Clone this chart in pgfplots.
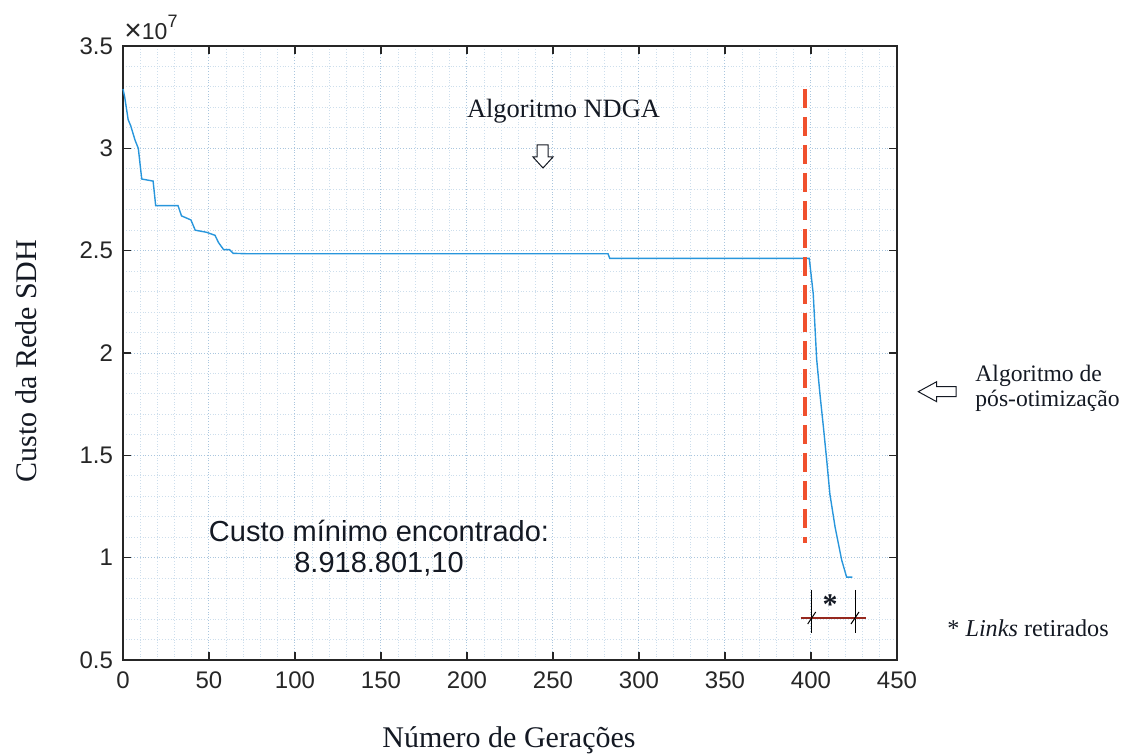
\documentclass[border=0pt]{standalone}
\usepackage{fontspec}
\setmainfont{Liberation Serif}
\setsansfont{Liberation Sans}
\usepackage{pgfplots}
\pgfplotsset{compat=1.18}
\definecolor{matblue}{RGB}{40,150,220}
\definecolor{dashred}{RGB}{240,80,45}
\definecolor{axgray}{RGB}{38,38,38}
\definecolor{gridmaj}{RGB}{170,198,222}
\definecolor{gridmin}{RGB}{205,222,236}
\definecolor{txt}{RGB}{20,25,35}
\definecolor{dimred}{RGB}{150,40,30}
\begin{document}
\begin{tikzpicture}
\path[use as bounding box] (-61.5pt,-48pt) rectangle (499pt,330pt);
\begin{axis}[
 at={(0,0)}, anchor=south west,
 scale only axis, width=387pt, height=307pt,
 xmin=0, xmax=450, ymin=0.5, ymax=3.5,
 xtick={0,50,...,450}, ytick={0.5,1,1.5,2,2.5,3,3.5},
 yticklabels={0.5,1,1.5,2,2.5,3,3.5},
 minor x tick num=4, minor y tick num=4,
 grid=both,
 major grid style={densely dotted, gridmaj, line width=0.5pt},
 minor grid style={densely dotted, gridmin, line width=0.5pt},
 tick align=inside,
 major tick length=4pt, minor tick length=0pt,
 axis line style={axgray, line width=0.6pt},
 tick style={axgray, line width=0.6pt},
 ticklabel style={font=\sffamily\fontsize{12}{14}\selectfont, text=axgray},
 /pgf/number format/assume math mode=true,
 xticklabel style={yshift=-2.5pt},
 yticklabel style={xshift=-1.5pt},
 clip=false,
]
\addplot[matblue, line width=0.7pt] coordinates {
(0,3.29) (1,3.25) (3,3.14) (4.5,3.11) (7,3.04) (8.9,3.0) (10.9,2.85) (17.5,2.84)
(19,2.72) (32,2.72) (34,2.67) (39.5,2.65) (42,2.60) (48.5,2.59) (53.5,2.575)
(55.5,2.54) (58.5,2.505) (62,2.505) (64,2.487) (72,2.485) (282,2.485) (283,2.462)
(399,2.462) (401.3,2.29) (403.3,1.97) (405.2,1.80) (407.2,1.64) (409.1,1.48)
(411,1.31) (414,1.15) (417.8,0.99) (420.7,0.905) (424,0.905)
};
\addplot[dashred, line width=2pt, dash pattern=on 9.5pt off 4.5pt] coordinates {
(396.5,3.29) (396.5,1.07)
};
\end{axis}
\begin{scope}[x=0.5pt, y=-0.5pt, shift={(-61.5pt,330pt)}]
\node[font=\fontsize{13.2}{15}\selectfont, text=txt, anchor=base] at (563.5,118) {Algoritmo NDGA};
\draw[txt, line width=0.5pt, fill=white] (537,145) -- (548,145) -- (548,157) -- (553,157) -- (543,168) -- (533,157) -- (537,157) -- cycle;
\draw[txt, line width=0.5pt, fill=white] (956,386.7) -- (936.7,386.7) -- (936.7,381.7) -- (918.3,391.7) -- (936.7,401.7) -- (936.7,396.7) -- (956,396.7) -- cycle;
\node[font=\sffamily\fontsize{14.5}{17}\selectfont, text=txt, anchor=base] at (379,541.7) {Custo mínimo encontrado:};
\node[font=\sffamily\fontsize{14.5}{17}\selectfont, text=txt, anchor=base] at (379,573) {8.918.801,10};
\node[font=\fontsize{11.8}{14}\selectfont, text=txt, anchor=base west, inner sep=0pt] at (975,382) {Algoritmo de};
\node[font=\fontsize{11.8}{14}\selectfont, text=txt, anchor=base west, inner sep=0pt] at (975,407) {pós-otimização};
\node[font=\fontsize{12.1}{14}\selectfont, text=txt, anchor=base west, inner sep=0pt] at (947,637) {* \textit{Links} retirados};
\node[font=\fontsize{15}{17}\selectfont, text=txt, anchor=base] at (509,748) {Número de Gerações};
\node[font=\fontsize{15}{17}\selectfont, text=txt, anchor=base, rotate=90] at (37,361) {Custo da Rede SDH};
\node[font=\sffamily\fontsize{11.5}{13}\selectfont, text=axgray, anchor=base west, inner sep=0pt] at (124,40) {\raisebox{-0.03em}{\fontsize{15}{15}\selectfont ×}10\raisebox{0.55em}{\fontsize{9}{9}\selectfont 7}};
\draw[black, line width=0.5pt] (811.7,590) -- (811.7,633);
\draw[black, line width=0.5pt] (855,590) -- (855,633);
\draw[dimred, line width=0.6pt] (800.7,618) -- (866,618);
\draw[black, line width=0.5pt] (807.7,624) -- (815.7,612);
\draw[black, line width=0.5pt] (851,624) -- (859,612);
\node[font=\bfseries\fontsize{15}{15}\selectfont, text=txt, anchor=base] at (830,614.5) {*};
\end{scope}
\end{tikzpicture}
\end{document}
